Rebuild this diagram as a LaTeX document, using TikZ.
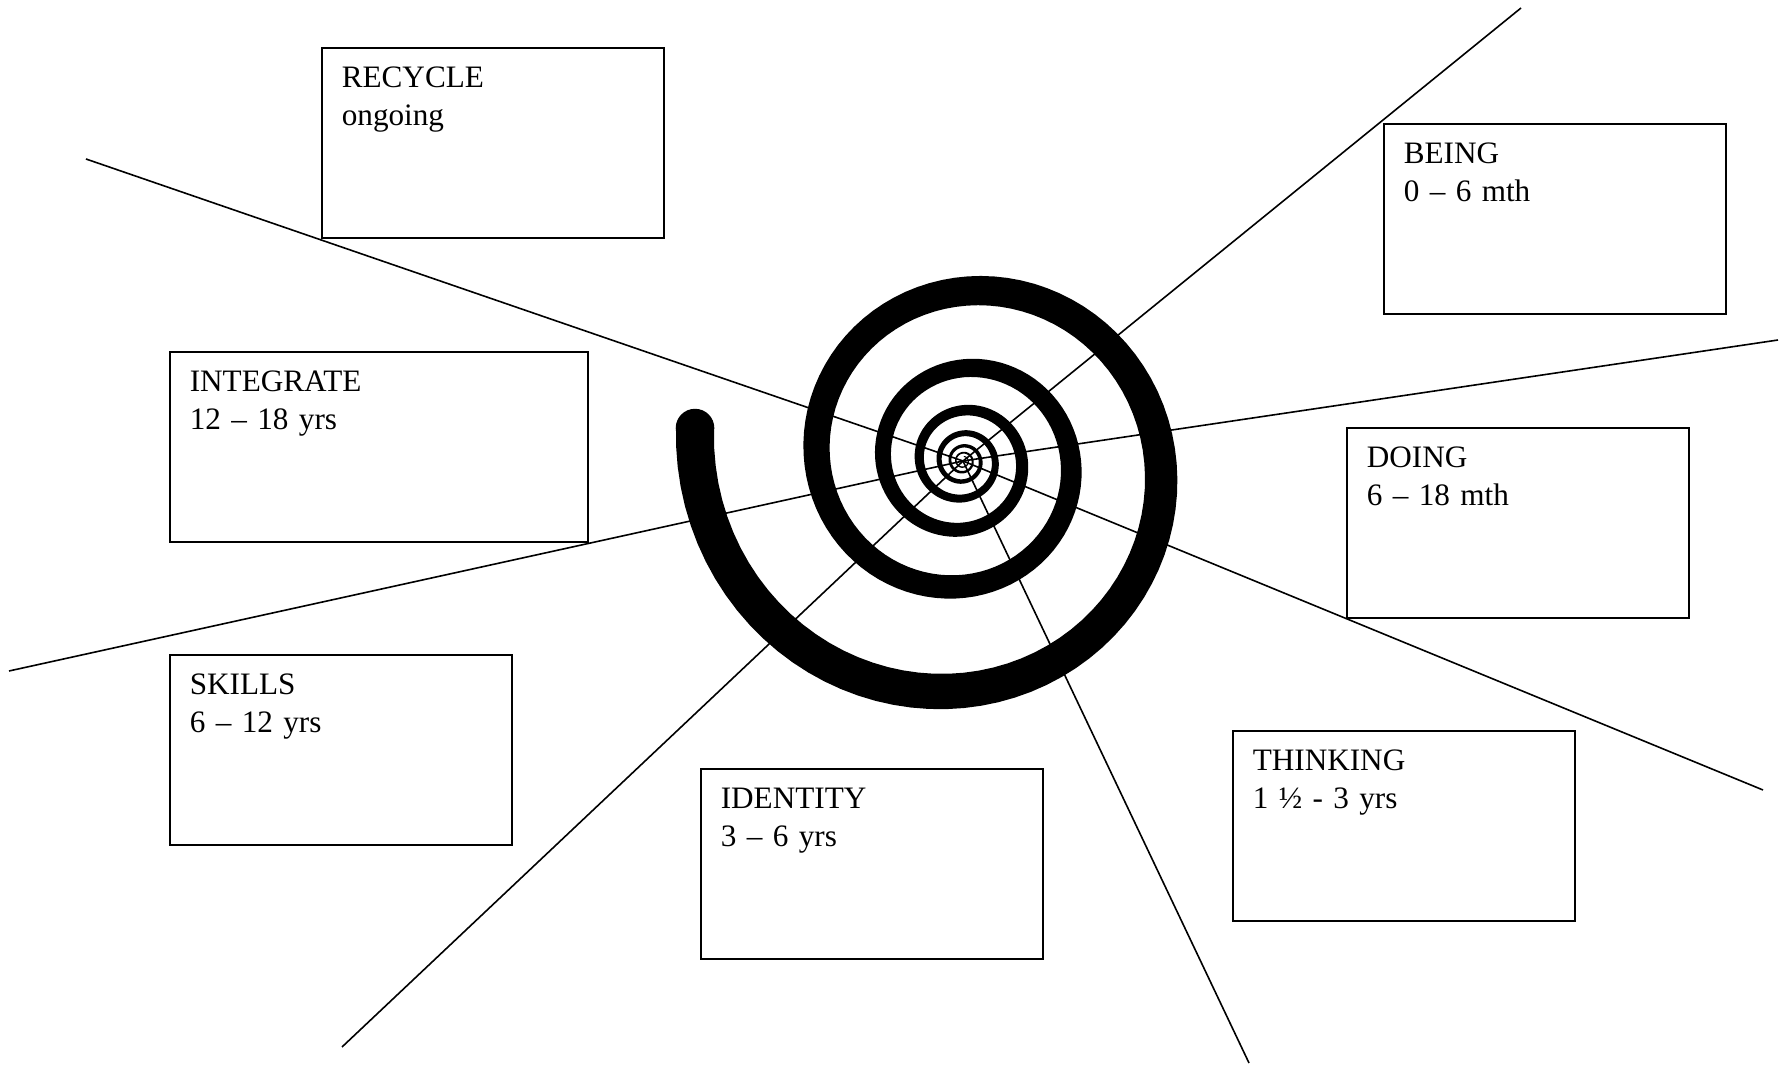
\documentclass[tikz,border=0pt]{standalone}
\usepackage{fontspec}
\setmainfont{Liberation Serif}

\begin{document}
\begin{tikzpicture}[x=0.5pt, y=-0.5pt, line width=0.8pt,
		declare function={sr(\t)=270*exp(-0.00168*(\t-173));
			so(\t)=sr(\t)*(1.112-0.00015*sr(\t));
			si(\t)=sr(\t)*(0.888+0.00015*sr(\t));},
		every node/.style={font=\fontsize{15.6}{18.9}\selectfont},
		stage/.style={draw, fill=white, anchor=north west, align=left,
			inner xsep=10pt, inner ysep=0pt, text height=20pt, text depth=75pt}]
	\useasboundingbox (0,0) rectangle (1789,1068);
	\coordinate (hub) at (963,461);
	% spiral: log spiral, stroke gets thinner towards the hub
	\fill plot[domain=173:2600, samples=600, variable=\t]
		({963+so(\t)*cos(\t)}, {461-so(\t)*sin(\t)})
		-- plot[domain=2600:173, samples=600, variable=\t]
		({963+si(\t)*cos(\t)}, {461-si(\t)*sin(\t)})
		-- cycle;
	\coordinate (tip) at ({963+270*cos(173)},{461-270*sin(173)});
	\fill (tip) circle (19.3);
	% rays out of the hub
	\foreach \i/\px/\py in {1/1521/8, 2/1778/340, 3/1763/790, 4/1249/1063, 5/342/1047, 6/9/671, 7/86/159} {
		\coordinate (ray\i) at (\px,\py);
		\draw (hub) -- (ray\i);
	}
	% stage boxes
	\foreach \n/\px/\py/\w/\a/\b in {recycle/321/47/151/RECYCLE/ongoing,
			being/1383/123/151/BEING/0 -- 6 mth,
			doing/1346/427/151/DOING/6 -- 18 mth,
			thinking/1232/730/151/THINKING/1 ½ - 3 yrs,
			identity/700/768/151/IDENTITY/3 -- 6 yrs,
			skills/169/654/151/SKILLS/6 -- 12 yrs,
			integrate/169/351/189/INTEGRATE/12 -- 18 yrs} {
		\node[stage, text width=\w pt] (\n) at (\px,\py) {\a\\\b};
	}
\end{tikzpicture}
\end{document}
